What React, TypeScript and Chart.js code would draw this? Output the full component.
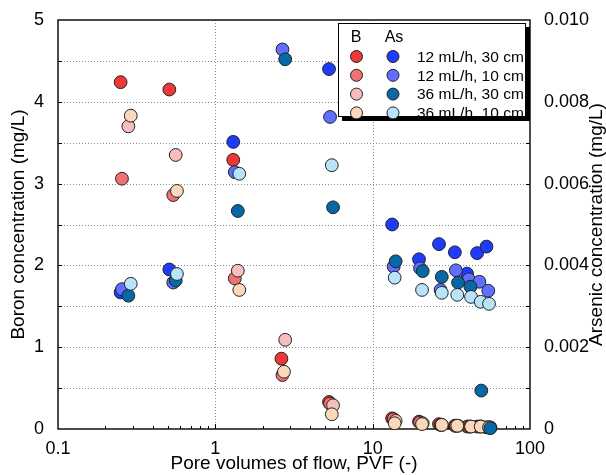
import React, { useEffect, useRef } from "react";
import { Chart, registerables } from "chart.js";

Chart.register(...registerables);

const FONT = "'Liberation Sans', Arial, sans-serif";

// Series labels and colours
const seriesLabels = ["12 mL/h, 30 cm", "12 mL/h, 10 cm", "36 mL/h, 30 cm", "36 mL/h, 10 cm"];
const boronColors = ["#EF3737", "#F27272", "#F8BDBD", "#FBD8B9"];
const arsenicColors = ["#1E3CFF", "#606FFF", "#0768A8", "#B9E3F8"];

// Pore volumes of flow (PVF) per column
const pvf_12_30 = [0.25, 0.51, 1.3, 2.63, 5.28, 13.3, 19.7, 26.4, 33.3, 39.8, 46.1, 52.9];
const pvf_12_10 = [0.255, 0.54, 1.33, 2.67, 5.36, 13.6, 20.0, 27.0, 33.8, 40.8, 47.7, 54.3];
const pvf_36_30 = [0.28, 0.56, 1.39, 2.78, 5.6, 14.0, 20.8, 27.5, 34.9, 41.8, 49.0, 56.0];
const pvf_36_10 = [0.29, 0.57, 1.42, 2.73, 5.5, 13.8, 20.6, 27.5, 34.5, 42.2, 48.6, 54.9];

// Boron concentration (mg/L)
const boron_12_30 = [4.24, 4.15, 3.29, 0.86, 0.33, 0.13, 0.09, 0.06, 0.04, 0.03, 0.03, 0.02];
const boron_12_10 = [3.06, 2.86, 1.84, 0.66, 0.31, 0.12, 0.08, 0.05, 0.04, 0.03, 0.03, 0.02];
const boron_36_30 = [3.7, 3.35, 1.935, 1.09, 0.29, 0.1, 0.07, 0.05, 0.04, 0.03, 0.03, 0.02];
const boron_36_10 = [3.83, 2.91, 1.7, 0.7, 0.18, 0.07, 0.06, 0.05, 0.04, 0.03, 0.03, 0.02];

// Arsenic concentration (mg/L)
const arsenic_12_30 = [0.00334, 0.0039, 0.00702, null, 0.0088, 0.005, 0.00415, 0.00452, 0.00432, 0.0038, 0.0043, 0.00446];
const arsenic_12_10 = [0.00342, 0.00358, 0.00628, 0.00928, 0.00763, 0.00397, 0.00393, 0.0034, 0.00388, 0.00366, 0.0036, 0.00338];
const arsenic_36_30 = [0.00326, 0.00363, 0.00533, 0.00904, 0.00542, 0.0041, 0.00386, 0.00372, 0.00358, 0.00348, 0.00094, 0.00002];
const arsenic_36_10 = [0.00355, 0.00379, 0.00624, null, 0.00645, 0.0037, 0.0034, 0.00333, 0.00328, 0.00323, 0.00311, 0.00306];

// Axis settings
const xTickLabels = ["0.1", "1", "10", "100"];
const xGridValues = [1, 10];
const xMinorTicks = [0.2, 0.3, 0.4, 0.5, 0.6, 0.7, 0.8, 0.9, 2, 3, 4, 5, 6, 7, 8, 9, 20, 30, 40, 50, 60, 70, 80, 90];
const boronGridValues = [0.5, 1, 1.5, 2, 2.5, 3, 3.5, 4, 4.5];
const arsenicTickValues = [0.001, 0.002, 0.003, 0.004, 0.005, 0.006, 0.007, 0.008, 0.009];

const pvfs = [pvf_12_30, pvf_12_10, pvf_36_30, pvf_36_10];
const borons = [boron_12_30, boron_12_10, boron_36_30, boron_36_10];
const arsenics = [arsenic_12_30, arsenic_12_10, arsenic_36_30, arsenic_36_10];

function pts(xs: number[], ys: (number | null)[]) {
  const out: { x: number; y: number }[] = [];
  xs.forEach((x, i) => {
    const y = ys[i];
    if (y !== null && y !== undefined) out.push({ x, y });
  });
  return out;
}

const decor = {
  id: "decor",
  beforeDatasetsDraw(chart: any) {
    const { ctx, chartArea } = chart;
    const { left, right, top, bottom } = chartArea;
    const sx = chart.scales.x;
    const sy = chart.scales.y;
    const sy2 = chart.scales.y2;
    ctx.save();
    ctx.strokeStyle = "#8c8c8c";
    ctx.lineWidth = 1;
    ctx.setLineDash([1, 2]);
    for (const v of boronGridValues) {
      const py = Math.round(sy.getPixelForValue(v)) + 0.5;
      ctx.beginPath();
      ctx.moveTo(left, py);
      ctx.lineTo(right, py);
      ctx.stroke();
    }
    for (const v of xGridValues) {
      const px = Math.round(sx.getPixelForValue(v)) + 0.5;
      ctx.beginPath();
      ctx.moveTo(px, top);
      ctx.lineTo(px, bottom);
      ctx.stroke();
    }
    ctx.setLineDash([]);
    ctx.strokeStyle = "#000";
    ctx.lineWidth = 1;
    for (const v of xMinorTicks) {
      const px = Math.round(sx.getPixelForValue(v)) + 0.5;
      ctx.beginPath();
      ctx.moveTo(px, bottom);
      ctx.lineTo(px, bottom - 3);
      ctx.stroke();
    }
    for (const v of xGridValues) {
      const px = Math.round(sx.getPixelForValue(v)) + 0.5;
      ctx.beginPath();
      ctx.moveTo(px, bottom);
      ctx.lineTo(px, bottom - 5);
      ctx.stroke();
    }
    for (const v of boronGridValues) {
      const py = Math.round(sy.getPixelForValue(v)) + 0.5;
      ctx.beginPath();
      ctx.moveTo(left, py);
      ctx.lineTo(left + 4, py);
      ctx.stroke();
    }
    for (const v of arsenicTickValues) {
      const py = Math.round(sy2.getPixelForValue(v)) + 0.5;
      ctx.beginPath();
      ctx.moveTo(right, py);
      ctx.lineTo(right - 4, py);
      ctx.stroke();
    }
    ctx.lineWidth = 1.4;
    ctx.strokeRect(left, top, right - left, bottom - top);
    ctx.restore();
  },
  afterDraw(chart: any) {
    const { ctx, chartArea } = chart;
    ctx.save();
    // right axis title (reads bottom to top)
    ctx.fillStyle = "#000";
    ctx.font = `19px ${FONT}`;
    ctx.textAlign = "center";
    ctx.textBaseline = "middle";
    ctx.translate(597, (chartArea.top + chartArea.bottom) / 2);
    ctx.rotate(-Math.PI / 2);
    ctx.fillText("Arsenic concentration (mg/L)", 0, 0);
    ctx.restore();

    // legend
    ctx.save();
    const bx = 338, by = 23, bw = 188, bh = 94;
    ctx.fillStyle = "#000";
    ctx.fillRect(bx + 4, by + 4, bw, bh);
    ctx.fillStyle = "#fff";
    ctx.fillRect(bx, by, bw, bh);
    ctx.strokeStyle = "#000";
    ctx.lineWidth = 1;
    ctx.strokeRect(bx + 0.5, by + 0.5, bw - 1, bh - 1);
    ctx.fillStyle = "#000";
    ctx.font = `16px ${FONT}`;
    ctx.textAlign = "center";
    ctx.textBaseline = "middle";
    ctx.fillText("B", 356, 38);
    ctx.fillText("As", 394, 38);
    ctx.font = `15.5px ${FONT}`;
    ctx.textAlign = "left";
    seriesLabels.forEach((lab, i) => {
      const cy = 56.5 + i * 18.8;
      ctx.lineWidth = 1;
      ctx.strokeStyle = "#222";
      ctx.fillStyle = boronColors[i];
      ctx.beginPath();
      ctx.arc(356.5, cy, 6, 0, Math.PI * 2);
      ctx.fill();
      ctx.stroke();
      ctx.fillStyle = arsenicColors[i];
      ctx.beginPath();
      ctx.arc(393, cy, 6, 0, Math.PI * 2);
      ctx.fill();
      ctx.stroke();
      ctx.fillStyle = "#000";
      ctx.fillText(lab, 417, cy + 1);
    });
    ctx.restore();
  },
};

export default function App() {
  const ref = useRef<HTMLCanvasElement | null>(null);
  useEffect(() => {
    document.body.style.margin = "0";
    const canvas = ref.current;
    if (!canvas) return;
    const datasets: any[] = [];
    const common = {
      pointRadius: 6.4,
      pointHoverRadius: 6.4,
      pointBorderWidth: 1,
      pointBorderColor: "#222",
      showLine: false,
      clip: false,
    };
    for (let i = 0; i < 4; i++) {
      datasets.push({
        ...common,
        label: "B " + seriesLabels[i],
        data: pts(pvfs[i], borons[i]),
        backgroundColor: boronColors[i],
        borderColor: "#222",
        yAxisID: "y",
      });
    }
    for (let i = 0; i < 4; i++) {
      datasets.push({
        ...common,
        label: "As " + seriesLabels[i],
        data: pts(pvfs[i], arsenics[i]),
        backgroundColor: arsenicColors[i],
        borderColor: "#222",
        yAxisID: "y2",
      });
    }
    datasets.forEach((d, i) => (d.order = datasets.length - 1 - i));

    const chart = new Chart(canvas, {
      type: "scatter",
      data: { datasets },
      options: {
        animation: false,
        responsive: false,
        devicePixelRatio: 1,
        layout: { padding: { top: 20, left: 0, right: 0, bottom: 0 } },
        plugins: { legend: { display: false }, tooltip: { enabled: false } },
        scales: {
          x: {
            type: "logarithmic",
            position: "bottom",
            min: 0.1,
            max: 100,
            grid: { display: false },
            border: { display: false },
            ticks: {
              autoSkip: false,
              maxRotation: 0,
              padding: 1,
              color: "#000",
              font: { family: FONT, size: 18 },
              callback: (v: any) => {
                const l = Math.log10(Number(v));
                if (Math.abs(l - Math.round(l)) < 1e-6) return xTickLabels[Math.round(l) + 1];
                return "";
              },
            },
            title: {
              display: true,
              text: "Pore volumes of flow, PVF (-)",
              color: "#000",
              font: { family: FONT, size: 19 },
              padding: { top: 0, bottom: 0 },
            },
            afterFit: (s: any) => {
              s.height = 46;
            },
          },
          y: {
            position: "left",
            min: 0,
            max: 5,
            grid: { display: false },
            border: { display: false },
            ticks: {
              stepSize: 1,
              padding: 6,
              color: "#000",
              font: { family: FONT, size: 18 },
              callback: (v: any) => String(v),
            },
            title: {
              display: true,
              text: "Boron concentration (mg/L)",
              color: "#000",
              font: { family: FONT, size: 19 },
              padding: { top: 7, bottom: 0 },
            },
            afterFit: (s: any) => {
              s.width = 58;
            },
          },
          y2: {
            position: "right",
            min: 0,
            max: 0.01,
            grid: { display: false },
            border: { display: false },
            ticks: {
              stepSize: 0.002,
              padding: 6,
              color: "#000",
              font: { family: FONT, size: 18 },
              callback: (v: any) => (Number(v) === 0 ? "0" : Number(v).toFixed(3)),
            },
            afterFit: (s: any) => {
              s.width = 76;
            },
          },
        },
      },
      plugins: [decor],
    });
    return () => chart.destroy();
  }, []);
  return (
    <div style={{ width: 606, height: 475 }}>
      <canvas ref={ref} width={606} height={475} style={{ display: "block" }} />
    </div>
  );
}
